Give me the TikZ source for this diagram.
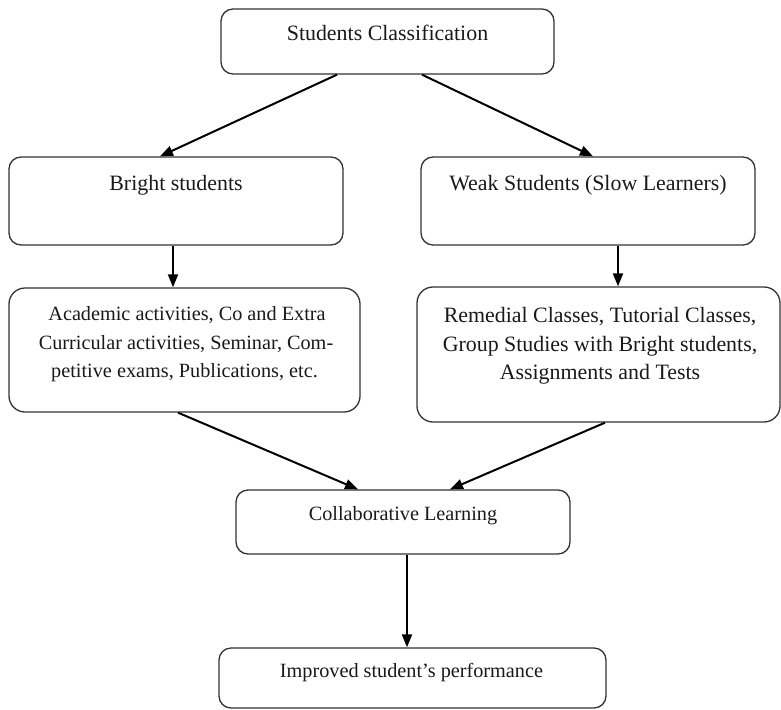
\documentclass[tikz,border=0pt]{standalone}
\usepackage{fontspec}
\setmainfont{Liberation Serif}
\usetikzlibrary{arrows.meta}
\begin{document}
\begin{tikzpicture}[x=1pt,y=-1pt,
  box/.style={draw=black!80, line width=1.3pt, rounded corners=12pt, rectangle, inner sep=0pt, anchor=center},
  txt/.style={anchor=base, inner sep=0pt, font=\fontsize{21.9}{28.5}\selectfont, text=black!90},
  smalltxt/.style={txt, font=\fontsize{20.25}{28.5}\selectfont},
  conn/.style={line width=2pt, -{Triangle[length=13pt,width=10pt]}}]
\useasboundingbox (0,0) rectangle (781,709);
% boxes
\node[box, minimum width=333pt, minimum height=65pt] (top) at (387.5,41.5) {};
\node[box, minimum width=334pt, minimum height=88pt] (bright) at (176,201) {};
\node[box, minimum width=334pt, minimum height=88pt] (weak) at (588,201) {};
\node[box, rounded corners=16pt, minimum width=351pt, minimum height=124pt] (acad) at (184.5,350) {};
\node[box, rounded corners=16pt, minimum width=363pt, minimum height=135pt] (rem) at (598.5,354.5) {};
\node[box, minimum width=334pt, minimum height=64pt] (collab) at (403,522) {};
\node[box, minimum width=387pt, minimum height=60pt] (impr) at (412.5,678) {};
% texts
\node[txt] (t1) at (387.5,41) {Students Classification};
\node[txt] (t2) at (176,190) {Bright students};
\node[txt] (t3) at (588,190) {Weak Students (Slow Learners)};
\node[smalltxt] (t4a) at (187,320) {Academic activities, Co and Extra};
\node[smalltxt] (t4b) at (186,349) {Curricular activities, Seminar, Com-};
\node[smalltxt] (t4c) at (184.5,377) {petitive exams, Publications, etc.};
\node[txt] (t5a) at (600,322) {Remedial Classes, Tutorial Classes,};
\node[txt] (t5b) at (600,351) {Group Studies with Bright students,};
\node[txt] (t5c) at (600,379) {Assignments and Tests};
\node[smalltxt] (t6) at (403,520) {Collaborative Learning};
\node[smalltxt] (t7) at (411.5,677) {Improved student’s performance};
% connectors
\draw[conn] ([xshift=-50.5pt]top.south) -- ([xshift=-16pt]bright.north);
\draw[conn] ([xshift=34.5pt]top.south) -- ([xshift=5pt]weak.north);
\draw[conn] ([xshift=-3pt]bright.south) -- ([xshift=-3pt]bright.south |- acad.north);
\draw[conn] ([xshift=30pt]weak.south) -- ([xshift=30pt]weak.south |- rem.north);
\draw[conn] ([xshift=-6.5pt]acad.south) -- ([xshift=-45pt]collab.north);
\draw[conn] ([xshift=6.5pt]rem.south) -- ([xshift=47pt]collab.north);
\draw[conn] ([xshift=4pt]collab.south) -- ([xshift=4pt]collab.south |- impr.north);
\end{tikzpicture}
\end{document}
